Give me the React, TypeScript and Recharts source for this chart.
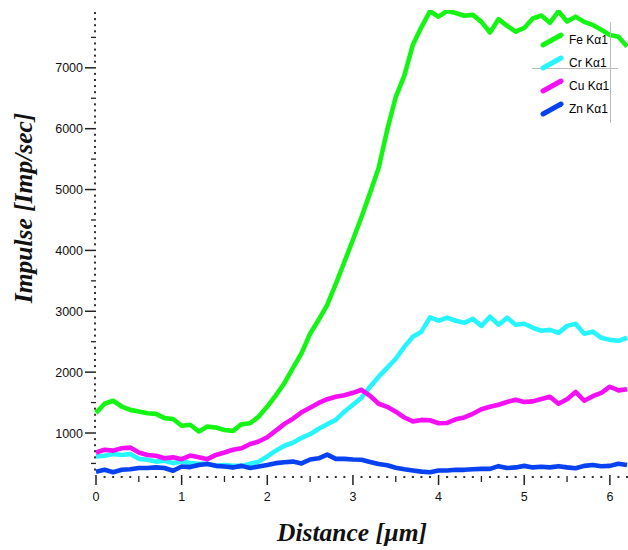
import { LineChart, Line, XAxis, YAxis } from 'recharts';

// distance along the line scan, µm
const distance = [
  0, 0.1, 0.2, 0.3, 0.4, 0.5, 0.6, 0.7, 0.8, 0.9,
  1, 1.1, 1.2, 1.3, 1.4, 1.5, 1.6, 1.7, 1.8, 1.9,
  2, 2.1, 2.2, 2.3, 2.4, 2.5, 2.6, 2.7, 2.8, 2.9,
  3, 3.1, 3.2, 3.3, 3.4, 3.5, 3.6, 3.7, 3.8, 3.9,
  4, 4.1, 4.2, 4.3, 4.4, 4.5, 4.6, 4.7, 4.8, 4.9,
  5, 5.1, 5.2, 5.3, 5.4, 5.5, 5.6, 5.7, 5.8, 5.9,
  6, 6.1, 6.2,
];

const fe = [
  1330, 1480, 1530, 1435, 1380, 1355, 1325, 1315, 1245, 1230,
  1120, 1135, 1025, 1105, 1090, 1050, 1035, 1145, 1160, 1270,
  1435, 1620, 1820, 2070, 2310, 2630, 2860, 3105, 3450, 3810,
  4175, 4550, 4945, 5355, 5980, 6520, 6870, 7380, 7670, 7930,
  7840, 7935, 7900, 7855, 7870, 7755, 7580, 7800, 7690, 7595,
  7655, 7810, 7860, 7740, 7930, 7760, 7840, 7755, 7705, 7625,
  7540, 7510, 7350,
];

const cr = [
  615, 625, 655, 640, 655, 575, 560, 530, 545, 505,
  530, 505, 495, 495, 460, 475, 460, 460, 495, 530,
  615, 710, 790, 840, 920, 980, 1070, 1145, 1215, 1350,
  1465, 1580, 1760, 1925, 2070, 2220, 2415, 2580, 2665, 2900,
  2845, 2895, 2845, 2810, 2875, 2760, 2910, 2780, 2895, 2780,
  2795, 2730, 2680, 2695, 2645, 2760, 2795, 2630, 2665, 2565,
  2530, 2515, 2565,
];

const cu = [
  680, 725, 710, 750, 760, 680, 640, 625, 585, 600,
  570, 630, 600, 570, 640, 680, 725, 750, 820, 860,
  930, 1040, 1150, 1235, 1340, 1415, 1495, 1555, 1595, 1620,
  1660, 1710, 1610, 1480, 1430, 1350, 1255, 1190, 1215, 1210,
  1160, 1165, 1225, 1255, 1315, 1390, 1430, 1465, 1510, 1545,
  1510, 1520, 1560, 1595, 1480, 1555, 1675, 1530, 1605, 1660,
  1760, 1700, 1720,
];

const zn = [
  365, 395, 355, 395, 405, 425, 425, 435, 425, 380,
  450, 440, 475, 490, 460, 450, 435, 460, 425, 450,
  475, 505, 520, 530, 500, 565, 585, 645, 575, 575,
  565, 560, 525, 490, 470, 430, 405, 385, 365, 355,
  385, 385, 395, 395, 405, 410, 410, 455, 425, 435,
  460, 435, 445, 435, 455, 435, 420, 460, 475, 455,
  460, 495, 475,
];

const seriesKeys = ['fe', 'cr', 'cu', 'zn'];
const seriesNames = ['Fe Kα1', 'Cr Kα1', 'Cu Kα1', 'Zn Kα1'];
const seriesColors = ['#14f514', '#26f4ff', '#f50ff5', '#0842f0'];

const yLabels = [1000, 2000, 3000, 4000, 5000, 6000, 7000];

// minor ticks every 100 on the impulse axis
const yTicks: number[] = [];
for (let v = 400; v <= 7900; v += 100) yTicks.push(v);

const data = distance.map((d, i) => ({ d, fe: fe[i], cr: cr[i], cu: cu[i], zn: zn[i] }));

const tickFont = { fontFamily: '"Liberation Sans", Arial, sans-serif', fontSize: 12.5, fill: '#111' };
const titleStyle = {
  position: 'absolute' as const,
  whiteSpace: 'nowrap' as const,
  fontFamily: '"Liberation Serif", "Times New Roman", serif',
  fontWeight: 'bold',
  fontStyle: 'italic',
  fontSize: 25.5,
  color: '#111',
};

const XTick = ({ x, y, payload }: any) => {
  const v = payload.value as number;
  const major = Math.abs(v - Math.round(v)) < 1e-6;
  const half = !major && Math.abs(v * 2 - Math.round(v * 2)) < 1e-6;
  if (major) {
    return (
      <g>
        <line x1={x} x2={x} y1={y} y2={y + 10} stroke="#222" strokeWidth={1.5} />
        <text x={x} y={y + 26} textAnchor="middle" {...tickFont}>{Math.round(v)}</text>
      </g>
    );
  }
  if (half) return <line x1={x} x2={x} y1={y + 1} y2={y + 7} stroke="#222" strokeWidth={1.3} />;
  return <rect x={x - 1} y={y + 1} width={2} height={2} fill="#333" />;
};

const YTick = ({ x, y, payload }: any) => {
  const v = payload.value as number;
  if (yLabels.includes(v)) {
    return (
      <g>
        <line x1={x - 11} x2={x} y1={y} y2={y} stroke="#222" strokeWidth={1.5} />
        <text x={x - 13} y={y + 4.5} textAnchor="end" {...tickFont}>{v}</text>
      </g>
    );
  }
  if (v % 500 === 0) return <line x1={x - 5} x2={x} y1={y} y2={y} stroke="#222" strokeWidth={1.3} />;
  return <rect x={x - 2} y={y - 1} width={2} height={2} fill="#333" />;
};

const App = () => {
  return (
    <div style={{ position: 'absolute', left: 0, top: 0, width: 628, height: 550, background: '#fff' }}>
      <LineChart width={628} height={550} data={data} margin={{ top: 10, right: 1, bottom: 0, left: 0 }}>
        <XAxis
          dataKey="d"
          type="number"
          domain={[0, 6.2]}
          ticks={distance}
          interval={0}
          axisLine={false}
          tickLine={false}
          tickSize={0}
          tickMargin={0}
          height={75}
          tick={<XTick />}
        />
        <YAxis
          type="number"
          domain={[310, 7950]}
          allowDataOverflow
          ticks={yTicks}
          interval={0}
          axisLine={false}
          tickLine={false}
          tickSize={0}
          tickMargin={0}
          width={96}
          tick={<YTick />}
        />
        {seriesKeys.map((k, i) => (
          <Line
            key={k}
            type="linear"
            dataKey={k}
            name={seriesNames[i]}
            stroke={seriesColors[i]}
            strokeWidth={4.6}
            strokeLinejoin="round"
            dot={false}
            isAnimationActive={false}
          />
        ))}
      </LineChart>

      <div style={{ ...titleStyle, left: 24, top: 208, transform: 'translate(-50%, -50%) rotate(-90deg)' }}>
        Impulse [Imp/sec]
      </div>
      <div style={{ ...titleStyle, left: 352, top: 533, transform: 'translate(-50%, -50%)' }}>
        Distance [µm]
      </div>

      {/* legend box remnants */}
      <div style={{ position: 'absolute', left: 610, top: 22, width: 1, height: 101, background: '#bbb' }} />
      <div style={{ position: 'absolute', left: 532, top: 68, width: 86, height: 1, background: '#bbb' }} />
      {seriesNames.map((name, i) => (
        <div key={name} style={{ position: 'absolute', left: 540, top: 31 + i * 23, height: 18, display: 'flex', alignItems: 'center' }}>
          <svg width={24} height={18}>
            <line x1={3} y1={14} x2={21} y2={4} stroke={seriesColors[i]} strokeWidth={5} strokeLinecap="round" />
          </svg>
          <span style={{ marginLeft: 5, fontFamily: '"Liberation Sans", Arial, sans-serif', fontSize: 12, color: '#000' }}>{name}</span>
        </div>
      ))}
    </div>
  );
};

export default App;
